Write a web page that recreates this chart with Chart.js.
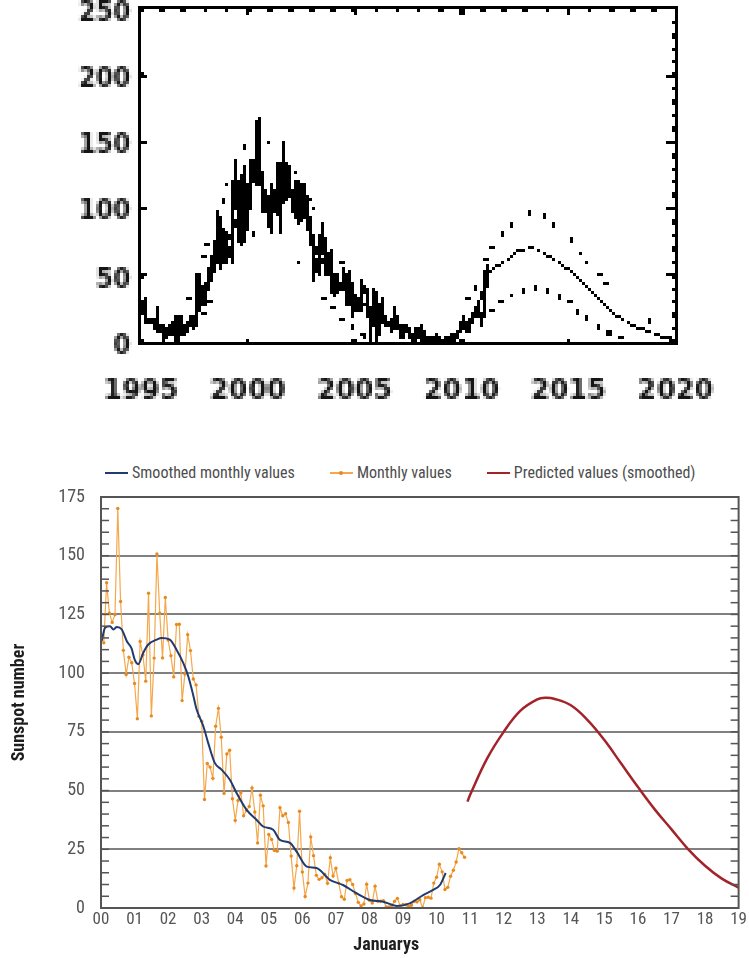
<!DOCTYPE html>
<html>
<head>
<meta charset="utf-8">
<title>Sunspot cycles 23 and 24</title>
<script src="https://cdn.jsdelivr.net/npm/chart.js@4.4.1/dist/chart.umd.min.js"></script>
<style>
  html, body { margin: 0; padding: 0; background: #ffffff; }
  body { width: 749px; height: 958px; position: relative; overflow: hidden; }
  #cycleOverview { position: absolute; left: 0; top: 0; image-rendering: pixelated; }
  #cycleDetail { position: absolute; left: 0; top: 440px; }
  #detailLegend {
    position: absolute; top: 463px; left: 105px;
    display: flex; gap: 35px; align-items: center;
    font-family: 'Liberation Sans Narrow', 'Roboto Condensed', Roboto, sans-serif;
    font-size: 16px; color: #4d4d4d; line-height: 20px; white-space: nowrap;
  }
  #detailLegend .item { display: flex; align-items: center; }
  #detailLegend .swatch { position: relative; width: 23px; margin-right: 4px; }
  #detailLegend .dot { position: absolute; left: 9.5px; width: 4px; height: 4px; border-radius: 2px; }
</style>
</head>
<body>
<canvas id="cycleOverview" width="747" height="429"></canvas>
<div id="detailLegend"></div>
<canvas id="cycleDetail" width="749" height="518"></canvas>
<script>
// ---------------------------------------------------------------
// Data
// ---------------------------------------------------------------

// Monthly mean sunspot number, one value per month from January 1995
const monthlyStartYear = 1995;
const monthlyValues = [
  24.2, 29.9, 31.1, 14.0, 14.5, 15.6, 14.5, 14.3, 11.8, 21.1, 9.0, 10.0,        // 1995
  11.5, 4.4, 9.2, 4.8, 5.5, 11.8, 8.2, 14.4, 1.6, 0.9, 17.9, 13.3,              // 1996
  5.7, 7.6, 8.7, 15.5, 18.5, 12.7, 10.4, 24.4, 51.3, 22.8, 39.0, 41.2,          // 1997
  31.9, 40.3, 54.8, 53.4, 56.3, 70.7, 66.6, 92.2, 92.9, 55.5, 74.0, 81.9,       // 1998
  62.0, 66.3, 68.8, 63.7, 106.4, 137.7, 113.5, 93.7, 71.5, 116.7, 133.2, 84.6,  // 1999
  90.1, 112.9, 138.5, 125.5, 121.6, 124.9, 170.1, 130.5, 109.7, 99.4, 106.8, 104.4, // 2000
  95.6, 80.6, 113.5, 107.7, 96.6, 134.0, 81.8, 106.4, 150.7, 125.5, 106.5, 132.2, // 2001
  114.1, 107.4, 98.4, 120.7, 120.8, 88.3, 99.6, 116.4, 109.6, 97.5, 95.0, 81.6, // 2002
  79.5, 46.2, 61.5, 60.0, 55.2, 77.4, 85.0, 72.7, 48.8, 65.6, 67.2, 46.5,       // 2003
  37.3, 45.8, 49.1, 39.3, 41.5, 43.2, 51.1, 40.9, 27.7, 48.0, 43.5, 17.9,       // 2004
  31.3, 29.2, 24.5, 24.2, 42.7, 39.3, 40.1, 36.4, 22.1, 8.5, 18.0, 41.2,        // 2005
  15.3, 4.9, 10.6, 30.2, 22.3, 13.9, 12.2, 12.9, 14.4, 10.5, 21.4, 13.6,        // 2006
  16.9, 10.6, 4.8, 3.7, 11.7, 12.0, 10.0, 6.2, 2.4, 0.9, 1.7, 10.1,             // 2007
  3.3, 2.1, 9.3, 2.9, 2.9, 3.1, 0.5, 0.5, 1.1, 2.9, 4.1, 0.8,                   // 2008
  1.5, 1.4, 0.7, 1.2, 2.9, 2.6, 3.5, 0.0, 4.4, 4.6, 4.2, 10.6,                  // 2009
  13.1, 18.6, 15.4, 7.9, 8.8, 13.5, 16.1, 19.6, 25.2, 23.5, 21.6, 14.8,         // 2010
  19.0, 29.4, 56.2, 54.4                                                        // 2011
];

// Months shown in the lower panel: February 2000 .. November 2010
const detailFirstMonth = 61;
const detailLastMonth = 190;

// 13-month smoothed values, in years after January 2000
const smoothedYears = [
  0.02, 0.12, 0.27, 0.37, 0.47, 0.62, 0.77, 0.91, 1.01, 1.11, 1.26, 1.41,
  1.66, 1.81, 2.05, 2.25, 2.45, 2.60, 2.75, 2.85, 3.05, 3.20, 3.39, 3.59,
  3.84, 4.04, 4.34, 4.64, 4.83, 5.13, 5.33, 5.63, 5.83, 6.13, 6.42, 6.82,
  7.21, 7.61, 8.01, 8.41, 8.81, 9.20, 9.60, 9.90, 10.10, 10.27
];
const smoothedValues = [
  113.6, 119.3, 120.0, 118.6, 119.6, 118.6, 113.6, 110.5, 105.5, 103.8, 108.7, 112.2,
  114.3, 115.0, 114.3, 110.0, 104.4, 98.7, 90.5, 84.5, 77.4, 70.0, 61.8, 58.9,
  54.6, 49.0, 41.8, 37.5, 34.7, 33.3, 29.0, 27.7, 24.0, 17.6, 17.0, 12.0,
  9.8, 6.3, 3.4, 2.7, 0.9, 2.0, 5.5, 7.7, 9.8, 14.9
];

// Predicted smoothed values, in years after January 2000
const predictedYears = [
  10.92, 11.0, 11.5, 12.0, 12.5, 13.0, 13.25, 13.5, 14.0, 14.5,
  15.0, 15.5, 16.0, 16.5, 17.0, 17.5, 18.0, 18.5, 19.0
];
const predictedValues = [
  45.3, 48.2, 63.5, 75.0, 84.0, 88.8, 89.5, 89.1, 86.3, 80.0,
  71.5, 61.5, 51.5, 42.0, 33.5, 25.0, 18.0, 12.5, 8.7
];

// Upper panel: smoothed curve before 2000, the rise of 2010 and the forecast
const earlySmoothedYears = [1995.0, 1995.4, 1995.8, 1996.2, 1996.5, 1996.9, 1997.3, 1997.7, 1998.1, 1998.5, 1998.9, 1999.3, 1999.7];
const earlySmoothedValues = [22, 17, 12, 9, 8.5, 10, 15, 25, 40, 57, 71, 84, 99];
const forecastYears = [
  2010.6, 2010.95, 2011.2, 2011.64, 2012.02, 2012.48, 2013.02, 2013.48, 2013.87, 2014.48,
  2015.02, 2015.4, 2015.86, 2016.4, 2017.1, 2017.7, 2018.3, 2018.94, 2019.7, 2020.0
];
const forecastValues = [
  22, 35, 49, 56.6, 60.4, 66.6, 69.9, 69.9, 65.9, 60.4,
  54.1, 48.4, 40.4, 31.7, 21.7, 15.5, 10.5, 6.7, 2.5, 1.5
];

// Upper panel: dotted upper and lower bounds
const upperBoundYears = [
  1997.26, 1997.95, 1998.1, 1998.54, 1998.84, 1998.98, 1999.8, 2000.95, 2002.26, 2002.87,
  2003.1, 2004.41, 2004.72, 2010.28, 2010.6, 2011.14, 2011.43, 2011.87, 2012.33, 2013.14,
  2013.87, 2014.3, 2015.17, 2015.59, 2015.86, 2016.45, 2016.76, 2018.75
];
const upperBoundValues = [
  32, 64, 74, 97, 106, 118, 146, 150, 127, 108,
  100, 60, 51, 32, 41, 62, 71.6, 80.8, 87.3, 97.3,
  94.8, 87.3, 76, 66.6, 59.6, 50.9, 43.4, 15.5
];
const lowerBoundYears = [
  1997.95, 1998.23, 1999.84, 2000.29, 2002.4, 2003.56, 2003.99, 2004.41, 2004.87, 2005.41,
  2011.43, 2011.87, 2012.33, 2012.86, 2013.48, 2014.02, 2014.59, 2015.05, 2015.45, 2015.86,
  2016.45, 2016.9, 2017.45
];
const lowerBoundValues = [
  21, 30, 76, 81, 60, 32, 25.4, 16, 11, 5,
  23, 30, 34.7, 38.4, 40.9, 38.4, 34.2, 30, 23, 17.5,
  11, 6.7, 4.2
];

// Tick labels
const overviewYearTicks = [1995, 2000, 2005, 2010, 2015, 2020];
const overviewValueTicks = [0, 50, 100, 150, 200, 250];
const detailYearLabels = ['00', '01', '02', '03', '04', '05', '06', '07', '08', '09',
                          '10', '11', '12', '13', '14', '15', '16', '17', '18', '19'];
const detailValueTicks = [0, 25, 50, 75, 100, 125, 150, 175];

// ---------------------------------------------------------------
// Helpers
// ---------------------------------------------------------------
const toPoints = (xs, ys) => xs.map((x, i) => ({ x: x, y: ys[i] }));
const range = (from, to, step) => { const r = []; for (let v = from; v <= to + 1e-9; v += step) r.push(v); return r; };

// Frame around the plot area plus inward tick marks placed through the scales
const frameAndTicks = {
  id: 'frameAndTicks',
  afterDraw(chart, args, opts) {
    const { ctx, chartArea: a, scales } = chart;
    ctx.save();
    ctx.strokeStyle = opts.color;
    ctx.lineWidth = opts.tickWidth;
    ctx.lineCap = 'butt';
    (opts.marks || []).forEach(m => {
      const sc = scales[m.scale];
      m.values.forEach(v => {
        const p = sc.getPixelForValue(v);
        ctx.beginPath();
        if (m.side === 'left') { ctx.moveTo(a.left, p); ctx.lineTo(a.left + m.len, p); }
        if (m.side === 'right') { ctx.moveTo(a.right, p); ctx.lineTo(a.right - m.len, p); }
        if (m.side === 'top') { ctx.moveTo(p, a.top); ctx.lineTo(p, a.top + m.len); }
        if (m.side === 'bottom') { ctx.moveTo(p, a.bottom); ctx.lineTo(p, a.bottom - m.len); }
        ctx.stroke();
      });
    });
    const o = opts.frameOffset || 0;
    ctx.lineWidth = opts.frameWidth;
    ctx.strokeRect(a.left - o, a.top - o, a.right - a.left + 2 * o, a.bottom - a.top + 2 * o);
    ctx.restore();
  }
};

// Hard black-and-white rendering of the plot box (no grey edge pixels)
const crispPlot = {
  id: 'crispPlot',
  afterDraw(chart, args, opts) {
    const r = chart.currentDevicePixelRatio;
    const a = chart.chartArea;
    const ctx = chart.ctx;
    const x0 = Math.max(0, Math.floor((a.left - 6) * r));
    const y0 = Math.max(0, Math.floor((a.top - 6) * r));
    const x1 = Math.min(chart.canvas.width, Math.ceil((a.right + 6) * r));
    const y1 = Math.min(chart.canvas.height, Math.ceil((a.bottom + 6) * r));
    const img = ctx.getImageData(x0, y0, x1 - x0, y1 - y0);
    const d = img.data;
    for (let i = 0; i < d.length; i += 4) {
      const on = d[i + 3] >= opts.threshold;
      d[i] = d[i + 1] = d[i + 2] = 0;
      d[i + 3] = on ? 255 : 0;
    }
    ctx.putImageData(img, x0, y0);
  }
};

// Caption under the lower x axis, centred on a position of that axis
const axisCaption = {
  id: 'axisCaption',
  afterDraw(chart, args, opts) {
    if (!opts.text) return;
    const { ctx, chartArea: a, scales } = chart;
    ctx.save();
    ctx.font = opts.font;
    ctx.fillStyle = opts.color;
    ctx.textAlign = 'center';
    ctx.textBaseline = 'middle';
    ctx.fillText(opts.text, scales.x.getPixelForValue(opts.at), a.bottom + opts.offset);
    ctx.restore();
  }
};

// ---------------------------------------------------------------
// Upper panel: cycles 23 and 24, monthly record and forecast
// ---------------------------------------------------------------
const overviewFont = { family: "'DejaVu Sans', sans-serif", weight: 'bold' };

new Chart(document.getElementById('cycleOverview'), {
  type: 'line',
  data: {
    datasets: [
      {
        label: 'Smoothed and forecast',
        data: toPoints(
          earlySmoothedYears.concat(smoothedYears.map(t => 2000 + t), forecastYears),
          earlySmoothedValues.concat(smoothedValues, forecastValues)),
        borderColor: '#000', borderWidth: 2.4, pointRadius: 0,
        cubicInterpolationMode: 'monotone'
      },
      {
        label: 'Monthly',
        data: monthlyValues.map((v, i) => ({ x: monthlyStartYear + i / 12, y: v })),
        borderColor: '#000', borderWidth: 3.3, pointRadius: 0, tension: 0
      },
      {
        label: 'Upper bound',
        data: toPoints(upperBoundYears, upperBoundValues),
        showLine: false, pointStyle: 'rect', pointRadius: 2.8,
        pointBackgroundColor: '#000', pointBorderWidth: 0
      },
      {
        label: 'Lower bound',
        data: toPoints(lowerBoundYears, lowerBoundValues),
        showLine: false, pointStyle: 'rect', pointRadius: 2.8,
        pointBackgroundColor: '#000', pointBorderWidth: 0
      }
    ]
  },
  options: {
    responsive: false,
    animation: false,
    devicePixelRatio: 1 / 3,
    layout: { padding: { top: 9, right: 66, bottom: 0, left: 0 } },
    plugins: {
      legend: { display: false },
      tooltip: { enabled: false },
      frameAndTicks: {
        color: '#000', tickWidth: 3, frameWidth: 4.5, frameOffset: 1.5,
        marks: [
          { scale: 'y', side: 'left', len: 6, values: [50, 100, 150, 200] },
          { scale: 'y', side: 'right', len: 4, values: range(10, 240, 10) },
          { scale: 'y', side: 'right', len: 9, values: [50, 100, 150, 200] },
          { scale: 'x', side: 'top', len: 4, values: range(1996, 2019, 1) },
          { scale: 'x', side: 'top', len: 7, values: [2000, 2005, 2010, 2015] },
          { scale: 'x', side: 'bottom', len: 4, values: [2000, 2005, 2010, 2015] }
        ]
      },
      crispPlot: { threshold: 102 }
    },
    scales: {
      x: {
        type: 'linear', min: 1995, max: 2020,
        afterBuildTicks: s => { s.ticks = overviewYearTicks.map(v => ({ value: v })); },
        afterFit: s => { s.height = 87; },
        grid: { display: false, drawTicks: false },
        border: { display: false },
        ticks: {
          padding: 34, color: '#151515', maxRotation: 0,
          font: Object.assign({ size: 27 }, overviewFont),
          callback: v => String(v)
        }
      },
      y: {
        type: 'linear', min: 0, max: 250,
        afterBuildTicks: s => { s.ticks = overviewValueTicks.map(v => ({ value: v })); },
        afterFit: s => { s.width = 141; s.paddingTop = 0; s.paddingBottom = 0; },
        grid: { display: false, drawTicks: false },
        border: { display: false },
        ticks: {
          padding: 10, color: '#151515', labelOffset: 5,
          font: Object.assign({ size: 25 }, overviewFont),
          callback: v => String(v)
        }
      }
    }
  },
  plugins: [frameAndTicks, crispPlot]
});

// ---------------------------------------------------------------
// Lower panel: sunspot numbers since 2000 with the predicted cycle
// ---------------------------------------------------------------
const narrow = "'Liberation Sans Narrow', 'Roboto Condensed', Roboto, sans-serif";

const detailChart = new Chart(document.getElementById('cycleDetail'), {
  type: 'line',
  data: {
    datasets: [
      {
        label: 'Smoothed monthly values',
        data: toPoints(smoothedYears, smoothedValues),
        borderColor: '#1f3b72', borderWidth: 2, pointRadius: 0,
        cubicInterpolationMode: 'monotone'
      },
      {
        label: 'Monthly values',
        data: monthlyValues.slice(detailFirstMonth, detailLastMonth + 1)
          .map((v, i) => ({ x: (detailFirstMonth - 60 + i) / 12, y: v })),
        borderColor: '#f4a84c', borderWidth: 1.2, tension: 0,
        pointRadius: 1.7, pointBackgroundColor: '#e98a1f', pointBorderWidth: 0
      },
      {
        label: 'Predicted values (smoothed)',
        data: toPoints(predictedYears, predictedValues),
        borderColor: '#a3232a', borderWidth: 2.5, pointRadius: 0,
        tension: 0.4
      }
    ]
  },
  options: {
    responsive: false,
    animation: false,
    devicePixelRatio: 1,
    layout: { padding: { top: 57, right: 10, bottom: 0, left: 0 } },
    plugins: {
      legend: { display: false },
      tooltip: { enabled: false },
      frameAndTicks: {
        color: '#555', tickWidth: 1.5, frameWidth: 2, frameOffset: 0,
        marks: [
          { scale: 'y', side: 'left', len: 8, values: range(5, 170, 5) },
          { scale: 'y', side: 'right', len: 8, values: range(5, 170, 5) }
        ]
      },
      axisCaption: {
        text: 'Januarys', at: 8.5, offset: 37,
        font: "bold 18px " + narrow, color: '#1e1e1e'
      }
    },
    scales: {
      x: {
        type: 'linear', min: 0, max: 19,
        afterBuildTicks: s => { s.ticks = detailYearLabels.map((t, i) => ({ value: i })); },
        afterFit: s => { s.height = 50; },
        grid: { display: false, drawTicks: false },
        border: { display: false },
        ticks: {
          padding: 2, color: '#555', maxRotation: 0, autoSkip: false,
          font: { family: narrow, size: 17 },
          callback: v => detailYearLabels[v]
        }
      },
      y: {
        type: 'linear', min: 0, max: 175,
        afterBuildTicks: s => { s.ticks = detailValueTicks.map(v => ({ value: v })); },
        afterFit: s => { s.width = 101; },
        grid: { color: '#808080', lineWidth: 2, drawTicks: false },
        border: { display: false },
        ticks: {
          padding: 16, color: '#555',
          font: { family: narrow, size: 18 }
        },
        title: {
          display: true, text: 'Sunspot number', color: '#1e1e1e',
          font: { family: narrow, size: 18, weight: 'bold' },
          padding: { top: 9, bottom: 0 }
        }
      }
    }
  },
  plugins: [frameAndTicks, axisCaption]
});

// Legend for the lower panel, built from the chart's own legend items
(function buildLegend(chart) {
  const box = document.getElementById('detailLegend');
  const items = chart.options.plugins.legend.labels.generateLabels(chart);
  items.forEach(item => {
    const ds = chart.data.datasets[item.datasetIndex];
    const el = document.createElement('span');
    el.className = 'item';
    const sw = document.createElement('span');
    sw.className = 'swatch';
    sw.style.height = '2px';
    sw.style.background = ds.borderColor;
    if (ds.pointRadius > 0) {
      const dot = document.createElement('span');
      dot.className = 'dot';
      dot.style.top = '-1px';
      dot.style.background = ds.pointBackgroundColor;
      sw.appendChild(dot);
    }
    el.appendChild(sw);
    const tx = document.createElement('span');
    tx.textContent = item.text;
    el.appendChild(tx);
    box.appendChild(el);
  });
})(detailChart);
</script>
</body>
</html>
